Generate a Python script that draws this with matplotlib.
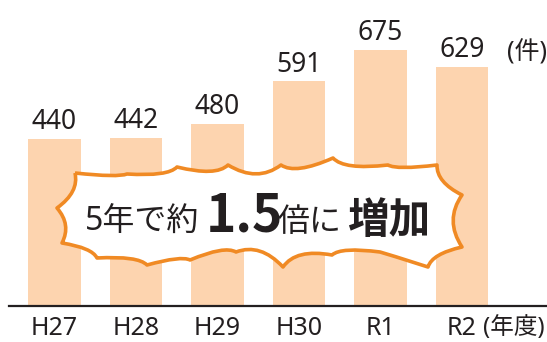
import numpy as np
import matplotlib
matplotlib.use("Agg")
import matplotlib.pyplot as plt
from matplotlib.path import Path
from matplotlib.patches import PathPatch

plt.rcParams['font.family'] = ['Noto Sans', 'Noto Sans CJK JP']

years = ['H27', 'H28', 'H29', 'H30', 'R1', 'R2']
counts = [440, 442, 480, 591, 675, 629]
title = '本市の児童虐待の通告数の推移'

BAR = '#FDD4AF'
ORANGE = '#F08A24'
INK = '#231F20'

W, H = 547, 342
fig = plt.figure(figsize=(W / 100, H / 100), dpi=100)

# main bar axes
ax = fig.add_axes([8.7 / W, (H - 306) / H, 538.3 / W, 266 / H])
x = np.arange(len(years))
ax.bar(x, counts, width=0.65, color=BAR, zorder=1)
ax.set_xlim(-0.562, 6.043)
ax.set_ylim(0, 700)
for xi, v in zip(x, counts):
    ax.annotate(str(v), (xi, v), xytext=(0, 2), textcoords='offset points',
                ha='center', va='bottom', fontsize=19, color=INK)

for s in ['top', 'right', 'left']:
    ax.spines[s].set_visible(False)
ax.spines['bottom'].set_linewidth(1.6)
ax.spines['bottom'].set_color(INK)
ax.set_yticks([])
ax.set_xticks(x)
ax.set_xticklabels(years, fontsize=18, color=INK)
ax.tick_params(axis='x', length=0, pad=7)
ax.annotate('(年度)', xy=(5.26, 0), xycoords=('data', 'axes fraction'),
            xytext=(0, -7.5), textcoords='offset points',
            ha='left', va='top', fontsize=17, color=INK)
ax.text(5.55, 666, '(件)', ha='left', va='center', fontsize=18, color=INK)

# clipped title at the very top
fig.text(283 / W, 1 - 4 / H, title, ha='center', va='bottom',
         fontsize=19, fontweight='bold', color=INK)

# overlay in pixel coords for the burst callout
ov = fig.add_axes([0, 0, 1, 1])
ov.set_xlim(0, W)
ov.set_ylim(H, 0)
ov.axis('off')

tips = [(75, 173), (127, 174), (177, 167), (228, 165), (281, 165), (333, 158),
        (388, 165), (437, 165), (462, 195), (462, 247),
        (428, 267), (380, 252), (332, 255), (283, 267), (236, 252),
        (190, 260), (147, 265), (97, 258), (62, 243), (57, 208)]
cx, cy = 262, 212
verts = [tips[0]]
codes = [Path.MOVETO]
for i in range(len(tips)):
    a = np.array(tips[i], float)
    b = np.array(tips[(i + 1) % len(tips)], float)
    mid = (a + b) / 2
    d = np.array([cx, cy]) - mid
    d /= np.linalg.norm(d)
    ctrl = mid + d * 0.34 * np.linalg.norm(b - a)
    verts += [tuple(ctrl), tuple(b)]
    codes += [Path.CURVE3, Path.CURVE3]
burst = PathPatch(Path(verts, codes), facecolor='white', edgecolor=ORANGE,
                  linewidth=2.6, joinstyle='round')
ov.add_patch(burst)

base = 231
ov.text(85, base, '5年で約', fontsize=23, color=INK, va='baseline', ha='left')
ov.text(206, base + 1, '1.5', fontsize=37, fontweight='bold', color=INK,
        va='baseline', ha='left', family=['Noto Sans CJK JP'])
ov.text(277, base, '倍に', fontsize=23, color=INK, va='baseline', ha='left')
ov.text(347, base + 2, '増加', fontsize=30, fontweight='bold', color=INK,
        va='baseline', ha='left', family=['Noto Sans CJK JP'])

fig.savefig('out.png', dpi=100)
